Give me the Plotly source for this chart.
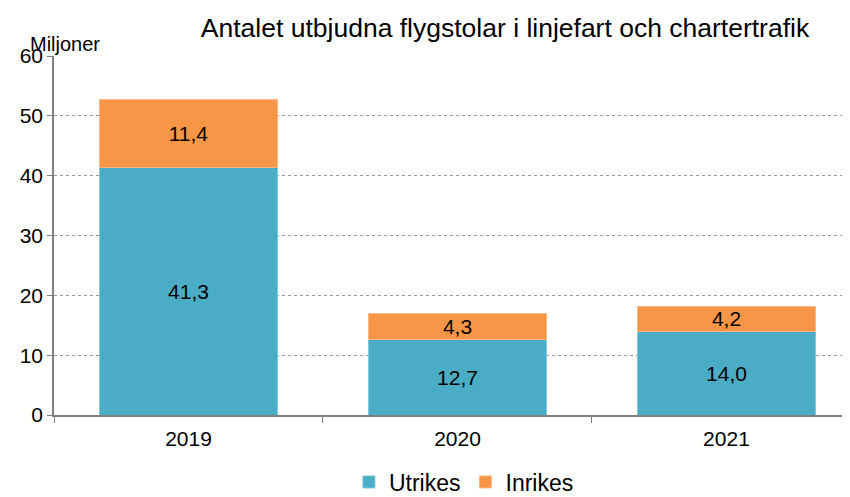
import plotly.graph_objects as go

years = ["2019", "2020", "2021"]
utrikes = [41.3, 12.7, 14.0]
inrikes = [11.4, 4.3, 4.2]
y_ticks = [0, 10, 20, 30, 40, 50, 60]

def fmt(v):
    return f"{v:.1f}".replace(".", ",")

FONT = "Liberation Sans, Arial, sans-serif"

fig = go.Figure()
fig.add_trace(go.Bar(
    name="Utrikes", x=years, y=utrikes,
    text=[fmt(v) for v in utrikes], textposition="inside",
    insidetextanchor="middle", textangle=0, constraintext="none",
    textfont=dict(size=21, color="black", family=FONT),
    marker=dict(color="#4BACC6", line=dict(color="#7fcbe0", width=1)),
))
fig.add_trace(go.Bar(
    name="Inrikes", x=years, y=inrikes,
    text=[fmt(v) for v in inrikes], textposition="inside",
    insidetextanchor="middle", textangle=0, constraintext="none",
    textfont=dict(size=21, color="black", family=FONT),
    marker=dict(color="#F79646", line=dict(color="#fbb886", width=1)),
))

W, H = 842, 497
fig.update_layout(
    barmode="stack",
    bargap=0.335,
    width=W, height=H,
    margin=dict(l=46, r=0, t=48, b=90),
    plot_bgcolor="white", paper_bgcolor="white",
    font=dict(family=FONT, size=21, color="black"),
    title=dict(
        text="Antalet utbjudna flygstolar i linjefart och chartertrafik",
        x=497/W, xanchor="center", xref="container",
        y=1-20/H, yanchor="middle", yref="container",
        font=dict(size=26.5, family=FONT, color="black"),
    ),
    legend=dict(
        orientation="h", x=0.515, xanchor="center",
        y=(H-474)/H, yanchor="middle", yref="container",
        font=dict(size=23, family=FONT), itemwidth=30,
        traceorder="normal",
    ),
    xaxis=dict(
        type="category", range=[-0.5, 2.5 - 11/269.5],
        showline=True, linecolor="#7f7f7f", linewidth=1.5,
        ticks="outside", tickson="boundaries", ticklen=6, tickcolor="#7f7f7f",
        ticklabelstandoff=4,
        showgrid=False, tickfont=dict(size=21),
    ),
    yaxis=dict(
        range=[0, 60], tickvals=y_ticks,
        showline=True, linecolor="#7f7f7f", linewidth=1.5,
        ticks="outside", ticklen=5, tickcolor="#7f7f7f",
        showgrid=True, gridcolor="#9a9a9a", griddash="dot", gridwidth=1,
        zeroline=False, tickfont=dict(size=21),
    ),
    annotations=[dict(
        text="Miljoner", xref="paper", yref="paper",
        x=(20-46)/796, xanchor="left", y=1+12/359, yanchor="middle",
        showarrow=False, font=dict(size=20, family=FONT, color="black"),
    )],
)

fig.write_html("out.html")
